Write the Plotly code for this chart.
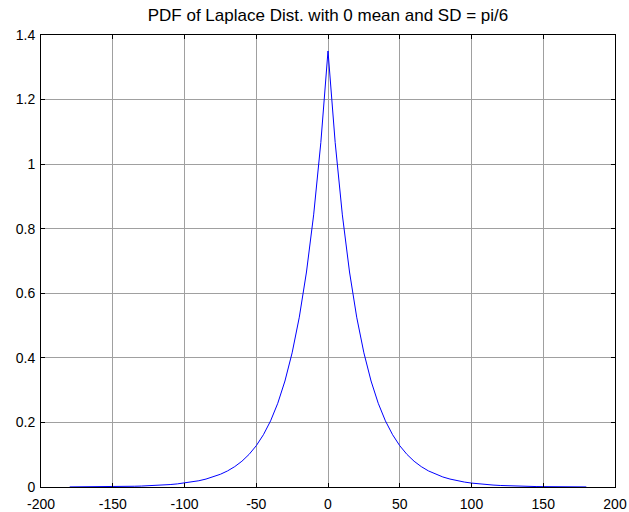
import plotly.graph_objects as go

# x in degrees, PDF values
x_deg = list(range(-180, 181, 5))
pdf_vals = [
    0.0003, 0.0003, 0.0004, 0.0006, 0.0007, 0.0009, 0.0011, 0.0014, 0.0018, 0.0023,
    0.0029, 0.0037, 0.0047, 0.0060, 0.0076, 0.0096, 0.0121, 0.0153, 0.0194, 0.0246,
    0.0311, 0.0394, 0.0498, 0.0631, 0.0798, 0.1010, 0.1279, 0.1619, 0.2049, 0.2594,
    0.3283, 0.4156, 0.5260, 0.6659, 0.8429, 1.0669, 1.3505, 1.0669, 0.8429, 0.6659,
    0.5260, 0.4156, 0.3283, 0.2594, 0.2049, 0.1619, 0.1279, 0.1010, 0.0798, 0.0631,
    0.0498, 0.0394, 0.0311, 0.0246, 0.0194, 0.0153, 0.0121, 0.0096, 0.0076, 0.0060,
    0.0047, 0.0037, 0.0029, 0.0023, 0.0018, 0.0014, 0.0011, 0.0009, 0.0007, 0.0006,
    0.0004, 0.0003, 0.0003,
]
x_ticks = [-200, -150, -100, -50, 0, 50, 100, 150, 200]
y_ticks = [0, 0.2, 0.4, 0.6, 0.8, 1.0, 1.2, 1.4]
y_tick_text = ["0", "0.2", "0.4", "0.6", "0.8", "1", "1.2", "1.4"]
title_text = "PDF of Laplace Dist. with 0 mean and SD = pi/6"

FONT = "Liberation Sans, Arial, sans-serif"

fig = go.Figure()
fig.add_trace(go.Scatter(x=x_deg, y=pdf_vals, mode="lines",
                         line=dict(color="#0000ff", width=1)))

axis_common = dict(
    showline=True, linecolor="black", linewidth=1, mirror="all",
    ticks="inside", ticklen=4, tickcolor="black", tickwidth=1,
    showgrid=True, gridcolor="#a0a0a0", gridwidth=1,
    zeroline=False, automargin=False,
    tickfont=dict(family=FONT, size=14, color="black"),
)

fig.update_layout(
    width=629, height=512,
    margin=dict(l=41, r=14, t=35, b=25),
    paper_bgcolor="white", plot_bgcolor="white",
    showlegend=False,
    title=dict(text=title_text, x=0.5, xref="paper", xanchor="center",
               y=1 - 15 / 512, yanchor="middle",
               font=dict(family=FONT, size=17, color="black")),
    xaxis=dict(range=[-200, 200], tickvals=x_ticks, ticktext=[str(v) for v in x_ticks],
               ticklabelstandoff=4, **axis_common),
    yaxis=dict(range=[0, 1.4], tickvals=y_ticks, ticktext=y_tick_text,
               ticklabelstandoff=2, **axis_common),
)

fig.write_html("out.html")
